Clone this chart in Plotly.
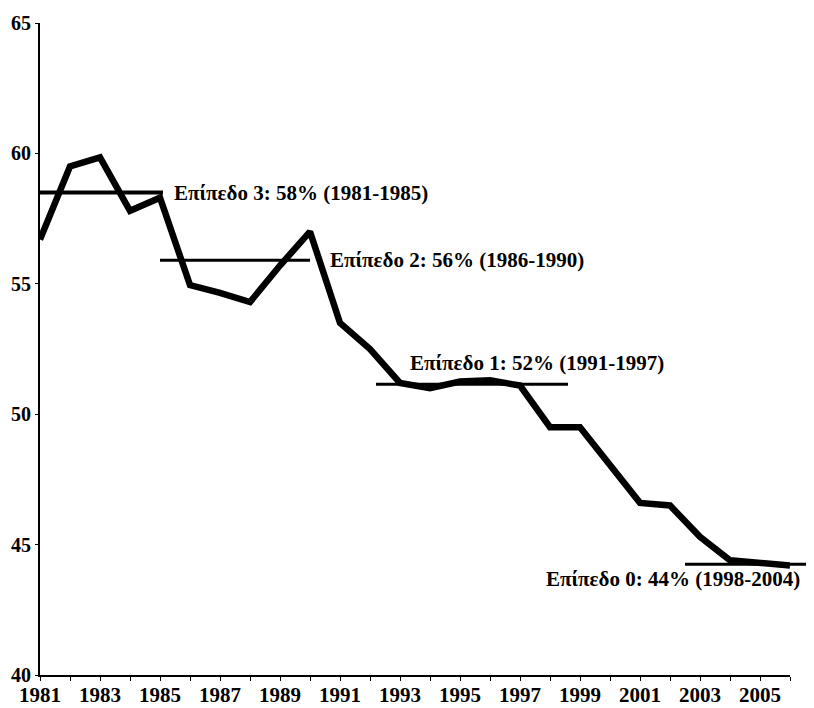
import plotly.graph_objects as go

years = list(range(1981, 2007))
values = [56.7, 59.5, 59.85, 57.8, 58.3, 54.95, 54.65, 54.3, 55.7, 57.0,
          53.5, 52.5, 51.2, 51.0, 51.25, 51.3, 51.1, 49.5, 49.5, 48.05,
          46.6, 46.5, 45.3, 44.4, 44.3, 44.2]

level_labels = ["Επίπεδο 3: 58% (1981-1985)", "Επίπεδο 2: 56% (1986-1990)",
                "Επίπεδο 1: 52% (1991-1997)", "Επίπεδο 0: 44% (1998-2004)"]
level_values = [58.5, 55.9, 51.15, 44.25]
level_start = [1981.0, 1985.0, 1992.2, 2002.5]
level_end = [1985.1, 1990.0, 1998.6, 2006.8]
level_widths = [4, 3, 3, 3]
label_x = [1985.4, 1990.6, 1993.25, 1997.8]
label_y = [58.5, 55.9, 51.95, 43.7]

tick_vals = years
tick_text = [str(y) if (y - 1981) % 2 == 0 else "" for y in years]

# page body has an 8px margin, so the figure is sized to fit the window
W, H = 806, 700
ml, mr, mt, mb = 32, 0, 15, 33
plot_w = W - ml - mr
main_px = 750
px_per_year = main_px / (2006 - 1981)

fig = go.Figure()
fig.add_trace(go.Scatter(x=years, y=values, mode="lines",
                         line=dict(color="black", width=6.5),
                         xaxis="x", yaxis="y", showlegend=False, hoverinfo="skip"))
for xs, xe, v, w in zip(level_start, level_end, level_values, level_widths):
    fig.add_trace(go.Scatter(x=[xs, xe], y=[v, v], mode="lines",
                             line=dict(color="black", width=w),
                             xaxis="x2", yaxis="y2", showlegend=False, hoverinfo="skip"))

font_main = dict(family="Liberation Serif", size=21, color="black", weight="bold")
for t, xx, yy in zip(level_labels, label_x, label_y):
    fig.add_annotation(x=xx, y=yy, xref="x", yref="y", text=t, showarrow=False,
                       xanchor="left", yanchor="middle", font=font_main)

fig.update_layout(
    width=W, height=H,
    margin=dict(l=ml, r=mr, t=mt, b=mb, autoexpand=False),
    paper_bgcolor="white", plot_bgcolor="rgba(0,0,0,0)",
    showlegend=False,
    xaxis=dict(domain=[0, main_px / plot_w], range=[1981, 2006], anchor="y",
               tickvals=tick_vals, ticktext=tick_text, ticks="outside", ticklen=4,
               ticklabelstandoff=-4,
               tickcolor="black", tickwidth=1, showline=True, linecolor="black",
               linewidth=2, showgrid=False, zeroline=False, automargin=False,
               tickfont=dict(family="Liberation Serif", size=21, color="black", weight="bold")),
    yaxis=dict(domain=[0, 1], range=[40, 65], dtick=5, anchor="x", ticks="outside",
               ticklen=3, tickcolor="black", showline=True, linecolor="black",
               linewidth=2, showgrid=False, zeroline=False, automargin=False,
               tickfont=dict(family="Liberation Serif", size=20, color="black", weight="bold")),
    xaxis2=dict(domain=[0, 1], range=[1981, 1981 + plot_w / px_per_year], anchor="y2",
                visible=False),
    yaxis2=dict(domain=[0, 1], range=[40, 65], anchor="x2", visible=False),
)

fig.write_html("out.html")
